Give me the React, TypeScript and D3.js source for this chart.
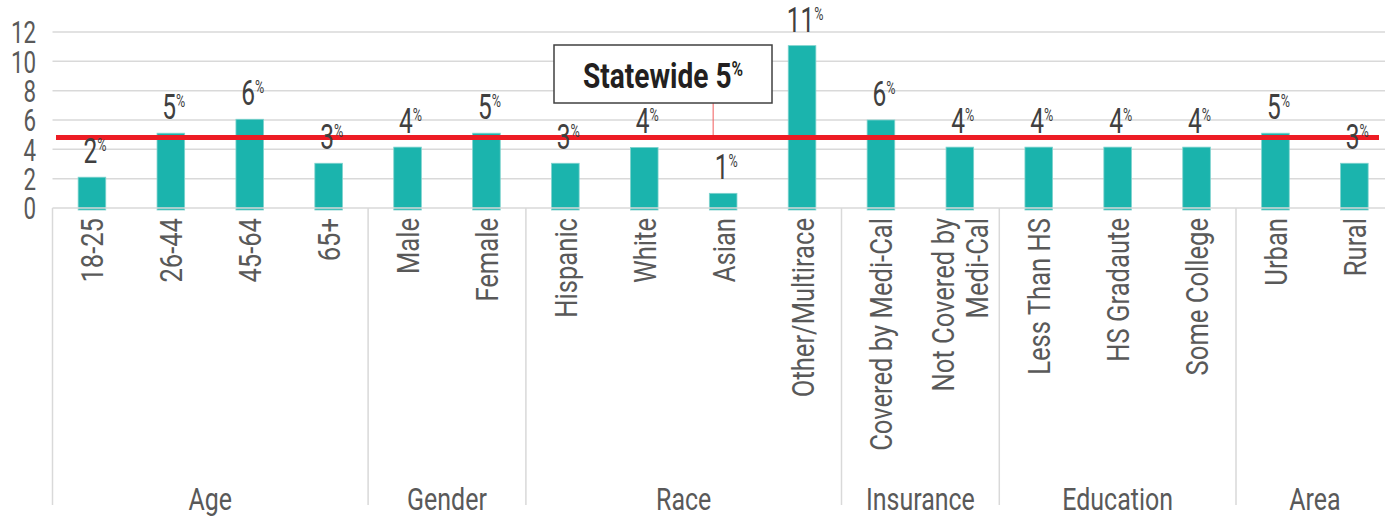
import React from "react";
import * as d3 from "d3";

// categories along the x axis ("\n" = line break in the rotated label)
const categories = [
  "18-25", "26-44", "45-64", "65+",
  "Male", "Female",
  "Hispanic", "White", "Asian", "Other/Multirace",
  "Covered by Medi-Cal", "Not Covered by\nMedi-Cal",
  "Less Than HS", "HS Gradaute", "Some College",
  "Urban", "Rural",
];
const groups = ["Age", "Gender", "Race", "Insurance", "Education", "Area"];
const groupSizes = [4, 2, 4, 2, 3, 2];
const values = [2.1, 5.1, 6.05, 3.05, 4.15, 5.1, 3.05, 4.13, 1.0, 11.07, 6.0, 4.15, 4.15, 4.15, 4.15, 5.1, 3.05];
const valueLabels = ["2", "5", "6", "3", "4", "5", "3", "4", "1", "11", "6", "4", "4", "4", "4", "5", "3"];
const yTicks = [0, 2, 4, 6, 8, 10, 12];
const statewide = 4.8;
const statewideLabel = "Statewide 5";

const W = 1385;
const H = 517;
const FONT = "Roboto, 'Liberation Sans', sans-serif";

// condensed text: no narrow font installed, so squeeze along the text direction
function T({ x, y, sx = 0.82, rot = 0, children, ...rest }: any) {
  return (
    <g transform={`translate(${x},${y}) rotate(${rot}) scale(${sx},1)`}>
      <text {...rest}>{children}</text>
    </g>
  );
}

export default function App() {
  const left = 52.5;
  const step = 78.9;
  const x = d3.scaleBand<string>()
    .domain(categories)
    .range([left, left + step * categories.length])
    .paddingInner(0.65)
    .paddingOuter(0.325);
  const y = d3.scaleLinear().domain([0, 12]).range([208, 32]);

  const axisY = y(0);
  const bottom = 505;
  const bw = x.bandwidth();
  const cx = (c: string) => (x(c) as number) + bw / 2;

  let acc = 0;
  const bounds = [left];
  const groupSpans: { name: string; x0: number; x1: number }[] = [];
  groupSizes.forEach((n, i) => {
    const x0 = left + acc * x.step();
    acc += n;
    const x1 = left + acc * x.step();
    bounds.push(x1);
    groupSpans.push({ name: groups[i], x0, x1 });
  });

  const boxX = 554, boxY = 45, boxW = 218, boxH = 58;
  const leaderX = cx("Asian") - 10;

  return (
    <svg width={W} height={H} style={{ position: "absolute", left: 0, top: 0, background: "#fff" }} fontFamily={FONT}>
      {yTicks.filter(t => t > 0).map(t => (
        <line key={t} x1={left} x2={W} y1={y(t)} y2={y(t)} stroke="#d9d9d9" strokeWidth={1.5} />
      ))}
      {yTicks.map(t => (
        <T key={t} x={36} y={y(t)} sx={0.72} dy="0.36em" textAnchor="end" fontSize={31} fill="#595959">{t}</T>
      ))}

      {categories.map((c, i) => (
        <rect key={c} x={x(c)} y={y(values[i])} width={bw} height={axisY - y(values[i]) + 2}
          fill="#1bb4ad" stroke="#7fd3ce" strokeWidth={0.8} />
      ))}

      <line x1={left} x2={W} y1={axisY} y2={axisY} stroke="#d9d9d9" strokeWidth={1.5} />
      {bounds.map((b, i) => (
        <line key={i} x1={b} x2={b} y1={axisY} y2={bottom} stroke="#d9d9d9" strokeWidth={1.5} />
      ))}

      {categories.map(c => {
        const lines = c.split("\n");
        const gap = 34;
        return lines.map((ln, j) => {
          const lx = cx(c) + (j - (lines.length - 1) / 2) * gap;
          return (
            <T key={c + j} x={lx} y={218} rot={-90} sx={0.8} dy="0.36em"
              textAnchor="end" fontSize={32} fill="#595959">{ln}</T>
          );
        });
      })}

      {groupSpans.map(g => (
        <T key={g.name} x={(g.x0 + g.x1) / 2} y={510} sx={0.78} textAnchor="middle" fontSize={32} fill="#595959">{g.name}</T>
      ))}

      <line x1={leaderX} x2={leaderX} y1={boxY + boxH} y2={y(statewide)} stroke="#f15a5a" strokeWidth={1} />
      <line x1={56} x2={1379} y1={y(statewide)} y2={y(statewide)} stroke="#ed1c24" strokeWidth={5} />

      {categories.map((c, i) => (
        <T key={c} x={cx(c) + 3} y={y(values[i]) - 14} sx={0.7} textAnchor="middle" fontSize={35} fill="#404040">
          {valueLabels[i]}
          <tspan fontSize={18} dy={-12}>%</tspan>
        </T>
      ))}

      <rect x={boxX} y={boxY} width={boxW} height={boxH} fill="#fff" stroke="#404040" strokeWidth={1.5} />
      <T x={boxX + boxW / 2} y={88} sx={0.78} textAnchor="middle" fontSize={36} fontWeight="bold" fill="#231f20">
        {statewideLabel}
        <tspan fontSize={20} dy={-12}>%</tspan>
      </T>
    </svg>
  );
}
